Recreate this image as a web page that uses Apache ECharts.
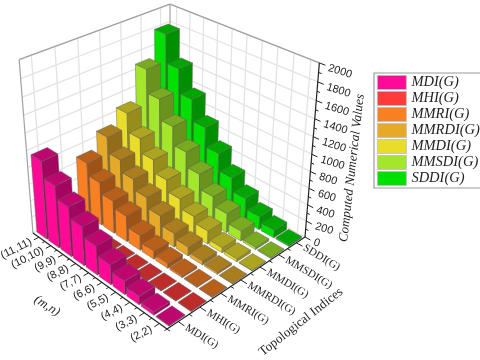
<!DOCTYPE html>
<html>
<head>
<meta charset="utf-8">
<style>
  html, body { margin: 0; padding: 0; background: #fff; }
  #chart { width: 480px; height: 360px; }
</style>
</head>
<body>
<div id="chart"></div>
<script src="https://cdn.jsdelivr.net/npm/echarts@6/dist/echarts.min.js"></script>
<script>
const pairs = ["(2,2)", "(3,3)", "(4,4)", "(5,5)", "(6,6)", "(7,7)", "(8,8)", "(9,9)", "(10,10)", "(11,11)"];
const indices = ["MDI(G)", "MHI(G)", "MMRI(G)", "MMRDI(G)", "MMDI(G)", "MMSDI(G)", "SDDI(G)"];
const valueTicks = [0, 200, 400, 600, 800, 1000, 1200, 1400, 1600, 1800, 2000];
const colors = ["#ff0a96", "#ff3a3a", "#f98022", "#e6a928", "#eadd2a", "#a4e62b", "#00e000"];

const mdi = [8, 40, 100, 160, 240, 350, 470, 600, 750, 940];
const mhi = [4, 5, 6, 7, 8, 9, 10, 11, 12, 14];
const mmri = [5, 10, 25, 60, 100, 184, 316, 400, 528, 672];
const mmrdi = [8, 25, 50, 110, 170, 282, 408, 536, 680, 870];
const mmdi = [8, 35, 62, 162, 238, 354, 494, 650, 820, 1046];
const mmsdi = [10, 30, 122, 236, 348, 530, 714, 938, 1186, 1466];
const sddi = [20, 95, 162, 290, 455, 665, 897, 1157, 1447, 1783];
const values = [mdi, mhi, mmri, mmrdi, mmdi, mmsdi, sddi];

// hidden grid fills the page, its axes only turn a datum into fractions of the box
const GRID_W = 480;
const GRID_H = 360;

// projected box: front corner, ends of the three edges leaving it, perspective weights
const A = [167, 329];
const L = [33, 233];
const R = [305, 237];
const T = [167, 137.5];
const WU = 0.153;
const WV = 0.146;
const WH = -0.108;

function project(u, v, h) {
  const d = 1 + WU * u + WV * v + WH * h;
  return [0, 1].map((k) =>
    (A[k] +
      u * ((1 + WU) * L[k] - A[k]) +
      v * ((1 + WV) * R[k] - A[k]) +
      h * ((1 + WH) * T[k] - A[k])) / d
  );
}

function shade(hex, f) {
  const n = parseInt(hex.slice(1), 16);
  const c = [n >> 16, (n >> 8) & 255, n & 255].map((x) => Math.round(x * f));
  return "rgb(" + c.join(",") + ")";
}

function face(points, fill) {
  return {
    type: "polygon",
    shape: { points: points },
    style: { fill: fill, stroke: "rgba(95,95,95,0.65)", lineWidth: 0.7 }
  };
}

function renderBar(j) {
  return function (params, api) {
    const pt = api.coord([api.value(0), api.value(1)]);
    const u = pt[0] / GRID_W;
    const h = 1 - pt[1] / GRID_H;
    const v = (j + 0.5) / indices.length;
    const du = 0.43 / pairs.length;
    const dv = 0.36 / indices.length;
    const c = colors[j];
    const a0 = project(u - du, v - dv, 0);
    const b0 = project(u + du, v - dv, 0);
    const c0 = project(u - du, v + dv, 0);
    const a1 = project(u - du, v - dv, h);
    const b1 = project(u + du, v - dv, h);
    const c1 = project(u - du, v + dv, h);
    const d1 = project(u + du, v + dv, h);
    return {
      type: "group",
      children: [
        face([a0, b0, b1, a1], c),
        face([a0, c0, c1, a1], shade(c, 0.64)),
        face([a1, b1, d1, c1], shade(c, 0.74))
      ]
    };
  };
}

function seg(p, q, stroke, width) {
  return {
    type: "line",
    shape: { x1: p[0], y1: p[1], x2: q[0], y2: q[1] },
    style: { stroke: stroke, lineWidth: width }
  };
}

function label(text, p, deg, align, font) {
  return {
    type: "text",
    x: p[0],
    y: p[1],
    rotation: (deg * Math.PI) / 180,
    style: { text: text, textAlign: align, textVerticalAlign: "middle", font: font, fill: "#222" }
  };
}

function renderFrame(params, api) {
  const out = [];
  const wall = "#e3e3e3";
  const edge = "#a2a2a2";
  const ink = "#222";
  const sans = '11px "Liberation Sans"';
  const serif = '11px "Liberation Serif"';
  const heights = valueTicks.map((t) => 1 - api.coord([0, t])[1] / GRID_H);

  heights.forEach((h) => {
    out.push(seg(project(1, 0, h), project(1, 1, h), wall, 1.3));
    out.push(seg(project(1, 1, h), project(0, 1, h), wall, 1.3));
  });
  indices.forEach((n, j) => {
    const v = (j + 0.5) / indices.length;
    out.push(seg(project(1, v, 0), project(1, v, 1), wall, 1.3));
  });
  pairs.forEach((n, i) => {
    const u = (i + 0.5) / pairs.length;
    out.push(seg(project(u, 1, 0), project(u, 1, 1), wall, 1.3));
  });

  out.push(seg(project(1, 0, 0), project(1, 0, 1), edge, 1.2));
  out.push(seg(project(1, 0, 1), project(1, 1, 1), edge, 1.2));
  out.push(seg(project(1, 1, 1), project(0, 1, 1), edge, 1.2));
  out.push(seg(project(1, 1, 0), project(1, 1, 1), edge, 1.2));

  // axes
  out.push(seg(project(1, 0, 0), project(0, 0, 0), ink, 1.2));
  out.push(seg(project(0, 0, 0), project(0, 1, 0), ink, 1.2));
  out.push(seg(project(0, 1, 0), project(0, 1, 1), ink, 1.2));

  pairs.forEach((n, i) => {
    const u = (i + 0.5) / pairs.length;
    out.push(seg(project(u, 0, 0), project(u, -0.032, 0), ink, 1));
    out.push(seg(project(i / pairs.length, 0, 0), project(i / pairs.length, -0.016, 0), ink, 1));
    out.push(label(n, project(u, -0.05, 0), 27, "right", sans));
  });
  indices.forEach((n, j) => {
    const v = (j + 0.5) / indices.length;
    out.push(seg(project(0, v, 0), project(-0.04, v, 0), ink, 1));
    out.push(seg(project(0, j / indices.length, 0), project(-0.02, j / indices.length, 0), ink, 1));
    out.push(label(n, project(-0.05, v, 0), -31, "left", serif));
  });
  heights.forEach((h, k) => {
    const p = project(0, 1, h);
    out.push(seg(p, project(-0.035, 1, h), ink, 1));
    out.push(label(String(valueTicks[k]), [p[0] + 9, p[1] + 5], -17, "left", sans));
    if (k < heights.length - 1) {
      const mid = (heights[k] + heights[k + 1]) / 2;
      out.push(seg(project(0, 1, mid), project(-0.018, 1, mid), ink, 1));
    }
  });

  out.push(label("(m,n)", [47, 306], -33, "center", 'italic 13px "Liberation Serif"'));
  out.push(label("Topological Indices", [301, 322], 38, "center", '13px "Liberation Serif"'));
  out.push(label("Computed Numerical Values", [352, 168], 83.5, "center", 'italic 13px "Liberation Serif"'));

  return { type: "group", children: out };
}

const barSeries = indices
  .map((name, j) => ({
    name: name,
    type: "custom",
    silent: true,
    clip: false,
    itemStyle: { color: colors[j] },
    encode: { x: 0, y: 1 },
    renderItem: renderBar(j),
    // far rows first so near rows paint over them
    data: values[j].map((val, i) => [i, val]).reverse()
  }))
  .reverse();

const chart = echarts.init(document.getElementById("chart"));
chart.setOption({
  animation: false,
  backgroundColor: "#fff",
  grid: { left: 0, top: 0, width: GRID_W, height: GRID_H },
  xAxis: { type: "category", data: pairs, show: false },
  yAxis: { type: "value", min: 0, max: 2000, show: false },
  legend: {
    data: indices,
    orient: "vertical",
    left: 374,
    top: 73,
    padding: [2, 1, 2, 3],
    itemWidth: 29,
    itemHeight: 14,
    itemGap: 1,
    icon: "rect",
    borderColor: "#999",
    borderWidth: 1.2,
    selectedMode: false,
    itemStyle: { borderColor: "#bbb", borderWidth: 0.8 },
    textStyle: {
      fontFamily: "Liberation Serif",
      fontStyle: "italic",
      fontSize: 14.5,
      lineHeight: 15,
      color: "#222"
    }
  },
  series: [
    {
      name: "frame",
      type: "custom",
      silent: true,
      clip: false,
      renderItem: renderFrame,
      data: [[0, 0]]
    }
  ].concat(barSeries)
});
</script>
</body>
</html>
